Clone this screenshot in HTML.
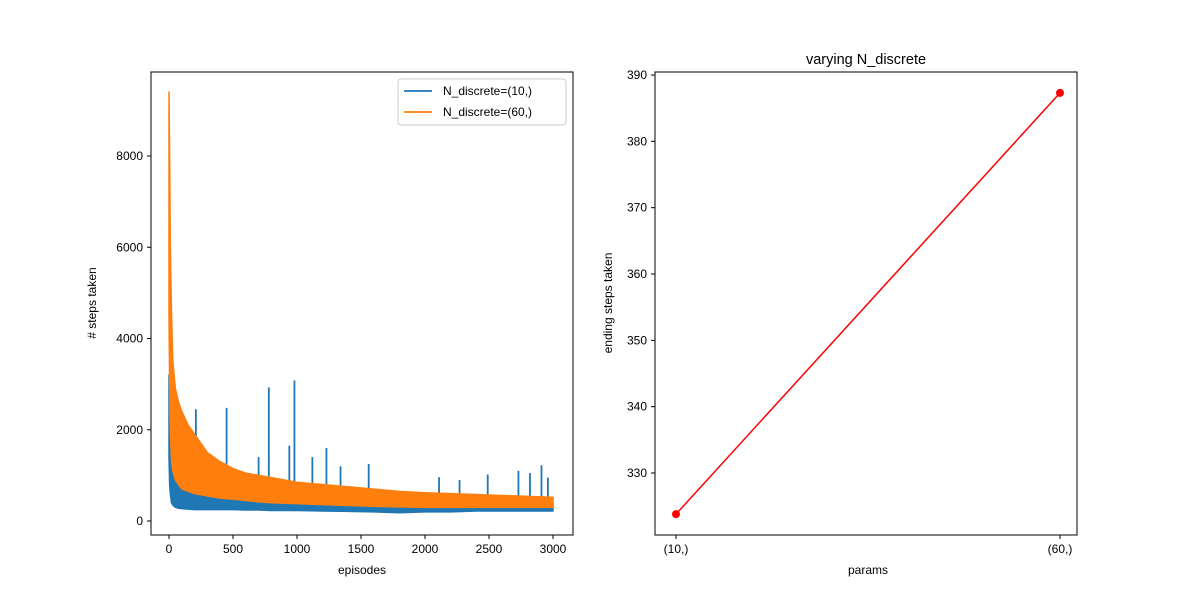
<!DOCTYPE html>
<html><head><meta charset="utf-8">
<style>
body{margin:0;background:#fff;}
svg{font-family:"Liberation Sans","DejaVu Sans",sans-serif;}
</style></head>
<body>
<svg id="fig" width="1200" height="600" viewBox="0 0 1200 600" xmlns="http://www.w3.org/2000/svg"></svg>
<script>
// Left chart data
const episodes = [0,5,10,20,30,50,75,100,150,200,300,400,500,600,700,800,1000,1200,1400,1600,1800,2000,2200,2400,2600,2800,3000];
const blueHigh = [3200,1900,1500,1200,1100,1000,950,900,850,800,750,700,650,600,600,550,500,480,450,420,400,380,380,380,380,380,380];
const blueLow  = [1400,800,600,400,350,300,280,270,260,250,250,250,250,240,240,230,230,220,210,200,180,200,200,220,220,220,220];
const orangeHigh = [9400,8000,6100,4500,3500,2900,2600,2400,2100,1900,1500,1300,1150,1050,1000,950,850,800,750,700,650,620,600,580,560,540,520];
const orangeLow  = [4500,3000,2000,1300,1100,900,800,700,650,600,550,500,480,450,420,400,380,360,340,320,310,300,300,300,300,300,300];
const spikeEpisodes = [20,210,450,700,780,940,980,1120,1230,1340,1560,2110,2270,2490,2730,2820,2910,2960];
const spikeValues   = [1900,2450,2480,1400,2930,1650,3080,1400,1600,1200,1250,960,900,1020,1100,1050,1220,950];
const leftXTicks = [0,500,1000,1500,2000,2500,3000];
const leftYTicks = [0,2000,4000,6000,8000];
// Right chart data
const paramLabels = ["(10,)","(60,)"];
const endingSteps = [323.8,387.3];
const rightYTicks = [330,340,350,360,370,380,390];

const NS="http://www.w3.org/2000/svg";
const svg=document.getElementById('fig');
function mk(tag,attrs,parent){const e=document.createElementNS(NS,tag);for(const k in attrs)e.setAttribute(k,attrs[k]);(parent||svg).appendChild(e);return e;}

const lx=v=>169+v*(384/3000);
const ly=v=>521-v*(365/8000);
const rx=i=>676+i*384;
const ry=v=>473-(v-330)*(398/60);

function band(hi,lo,color,name){
  let pts=episodes.map((e,i)=>lx(e)+','+ly(hi[i]));
  for(let i=episodes.length-1;i>=0;i--)pts.push(lx(episodes[i])+','+ly(lo[i]));
  const p=mk('polygon',{points:pts.join(' '),fill:color,stroke:color,'stroke-width':1.5,'stroke-linejoin':'round'});
  
  
}
band(blueHigh,blueLow,'#1f77b4','series-n10-band');
spikeEpisodes.forEach((e,i)=>{
  const l=mk('line',{x1:lx(e),x2:lx(e),y1:ly(spikeValues[i]),y2:ly(400),stroke:'#1f77b4','stroke-width':1.8});
  
  
});
band(orangeHigh,orangeLow,'#ff7f0e','series-n60-band');

const lf=mk('rect',{x:151,y:72,width:422,height:463,fill:'none',stroke:'#000','stroke-width':1});


leftXTicks.forEach(t=>{
  mk('line',{x1:lx(t),x2:lx(t),y1:535,y2:539,stroke:'#000'});
  const tx=mk('text',{x:lx(t),y:553,'font-size':12,'text-anchor':'middle'});tx.textContent=t;
  
  
});
leftYTicks.forEach(t=>{
  mk('line',{x1:147,x2:151,y1:ly(t),y2:ly(t),stroke:'#000'});
  const tx=mk('text',{x:143,y:ly(t)+4,'font-size':12,'text-anchor':'end'});tx.textContent=t;
  
  
});
let t1=mk('text',{x:362,y:574,'font-size':12,'text-anchor':'middle'});t1.textContent='episodes';


let t2=mk('text',{x:96,y:303,'font-size':12,'text-anchor':'middle',transform:'rotate(-90 96 303)'});t2.textContent='# steps taken';



const lg=mk('g',{});


mk('rect',{x:398,y:79,width:168,height:46,rx:3,fill:'#fff',stroke:'#ccc'},lg);
[['#1f77b4','N_discrete=(10,)',95],['#ff7f0e','N_discrete=(60,)',116]].forEach(([c,s,y])=>{
  mk('line',{x1:404,x2:432,y1:y-4,y2:y-4,stroke:c,'stroke-width':1.8},lg);
  const tx=mk('text',{x:443,y:y,'font-size':12},lg);tx.textContent=s;
  
  
});

const rf=mk('rect',{x:655,y:72,width:422,height:463,fill:'none',stroke:'#000'});


paramLabels.forEach((s,i)=>{
  mk('line',{x1:rx(i),x2:rx(i),y1:535,y2:539,stroke:'#000'});
  const tx=mk('text',{x:rx(i),y:553,'font-size':12,'text-anchor':'middle'});tx.textContent=s;
  
  
});
rightYTicks.forEach(t=>{
  mk('line',{x1:651,x2:655,y1:ry(t),y2:ry(t),stroke:'#000'});
  const tx=mk('text',{x:647,y:ry(t)+4,'font-size':12,'text-anchor':'end'});tx.textContent=t;
  
  
});
const rl=mk('polyline',{points:endingSteps.map((v,i)=>rx(i)+','+ry(v)).join(' '),fill:'none',stroke:'#ff0000','stroke-width':1.5});


endingSteps.forEach((v,i)=>{
  const c=mk('circle',{cx:rx(i),cy:ry(v),r:4,fill:'#ff0000'});
  
  
});
let t3=mk('text',{x:866,y:64,'font-size':14.5,'text-anchor':'middle'});t3.textContent='varying N_discrete';


let t4=mk('text',{x:868,y:574,'font-size':12,'text-anchor':'middle'});t4.textContent='params';


let t5=mk('text',{x:612,y:303,'font-size':12,'text-anchor':'middle',transform:'rotate(-90 612 303)'});t5.textContent='ending steps taken';


</script>
</body></html>
